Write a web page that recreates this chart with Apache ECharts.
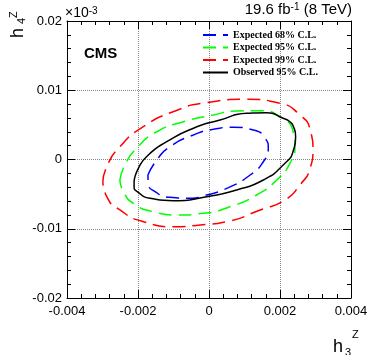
<!DOCTYPE html>
<html lang="en">
<head>
  <meta charset="UTF-8">
  <script src="https://cdn.jsdelivr.net/npm/echarts@6/dist/echarts.min.js"></script>
  <style>
    body { margin: 0; background: #fff; }
    #main { width: 374px; height: 355px; }
  </style>
  <title>h3Z h4Z limits</title>
</head>
<body>
  <div id="main"></div>
  <script>
    // contour points [h3Z, h4Z]
    const expected68 = [
      [-0.00172, -0.00224], [-0.00147, -0.00007], [-0.00110, 0.00185], [-0.00044, 0.00354],
      [0.00012, 0.00436], [0.00069, 0.00465], [0.00125, 0.00426], [0.00158, 0.00306],
      [0.00167, 0.00162], [0.00153, -0.00032], [0.00116, -0.00224], [0.00050, -0.00416],
      [-0.00007, -0.00513], [-0.00054, -0.00560], [-0.00110, -0.00546], [-0.00152, -0.00465],
      [-0.00171, -0.00344], [-0.00172, -0.00224]
    ];
    const expected95 = [
      [-0.00251, -0.00296], [-0.00237, -0.00079], [-0.00204, 0.00162], [-0.00147, 0.00401],
      [-0.00072, 0.00546], [0.00012, 0.00643], [0.00078, 0.00700], [0.00144, 0.00705],
      [0.00200, 0.00618], [0.00238, 0.00378], [0.00242, 0.00185], [0.00228, -0.00055],
      [0.00191, -0.00296], [0.00134, -0.00513], [0.00059, -0.00682], [-0.00016, -0.00777],
      [-0.00091, -0.00801], [-0.00157, -0.00754], [-0.00213, -0.00633], [-0.00241, -0.00465],
      [-0.00251, -0.00296]
    ];
    const expected99 = [
      [-0.00299, -0.00321], [-0.00288, -0.00104], [-0.00251, 0.00185], [-0.00185, 0.00474],
      [-0.00101, 0.00690], [-0.00007, 0.00820], [0.00106, 0.00869], [0.00200, 0.00812],
      [0.00256, 0.00643], [0.00285, 0.00426], [0.00293, 0.00137], [0.00285, -0.00123],
      [0.00256, -0.00368], [0.00214, -0.00585], [0.00144, -0.00729], [0.00050, -0.00898],
      [-0.00025, -0.00946], [-0.00101, -0.00970], [-0.00185, -0.00898], [-0.00251, -0.00729],
      [-0.00288, -0.00537], [-0.00299, -0.00321]
    ];
    const observed95 = [
      [-0.00211, -0.00321], [-0.00199, -0.00127], [-0.00171, 0.00065], [-0.00119, 0.00257],
      [-0.00044, 0.00451], [0.00031, 0.00570], [0.00106, 0.00667], [0.00163, 0.00676],
      [0.00209, 0.00595], [0.00227, 0.00549], [0.00238, 0.00474], [0.00244, 0.00329],
      [0.00238, 0.00137], [0.00209, -0.00079], [0.00153, -0.00296], [0.00078, -0.00440],
      [-0.00007, -0.00537], [-0.00101, -0.00595], [-0.00166, -0.00560], [-0.00202, -0.00465],
      [-0.00211, -0.00393], [-0.00211, -0.00321]
    ];
    const seriesNames = ['Expected 68% C.L.', 'Expected 95% C.L.', 'Expected 99% C.L.', 'Observed 95% C.L.'];
    const seriesColors = ['#0000ff', '#00ff00', '#ff0000', '#000000'];
    const xTicks = [-0.004, 0.004, 0.002];   // min, max, step
    const yTicks = [-0.02, 0.02, 0.01];

    const sans = 'Liberation Sans';
    const fmt = v => Math.abs(v) < 1e-12 ? '0' : String(+v.toFixed(4));

    function contour(i, data, dashed) {
      return {
        name: seriesNames[i],
        type: 'line',
        data: data,
        smooth: 0.6,
        symbol: 'none',
        lineStyle: { color: seriesColors[i], width: 1.5, type: dashed ? [13, 7] : 'solid' },
        itemStyle: { color: seriesColors[i] },
        z: 3
      };
    }

    const frameLine = { show: true, onZero: false, lineStyle: { color: '#000', width: 1 } };

    var myChart = echarts.init(document.getElementById('main'));
    var option = {
      animation: false,
      grid: { left: 67, right: 23, top: 21, bottom: 57 },
      legend: {
        orient: 'vertical',
        left: 197,
        top: 25,
        itemWidth: 25,
        itemHeight: 10,
        itemGap: 2.5,
        data: seriesNames,
        itemStyle: { opacity: 0 },
        textStyle: { fontFamily: 'Liberation Serif', fontWeight: 'bold', fontSize: 10, color: '#000' }
      },
      xAxis: [{
        type: 'value', min: xTicks[0], max: xTicks[1], interval: xTicks[2],
        axisLine: frameLine,
        axisTick: { inside: true, length: 8, lineStyle: { color: '#000' } },
        minorTick: { show: true, splitNumber: 5, length: 4, lineStyle: { color: '#000' } },
        axisLabel: { formatter: fmt, fontFamily: sans, fontSize: 13, color: '#000', margin: 7, hideOverlap: false },
        splitLine: { show: true, lineStyle: { color: '#888', type: 'dotted', width: 1 } }
      }, {
        type: 'value', position: 'top', min: xTicks[0], max: xTicks[1], interval: xTicks[2],
        axisLine: frameLine,
        axisTick: { inside: true, length: 8, lineStyle: { color: '#000' } },
        minorTick: { show: true, splitNumber: 5, length: 4, lineStyle: { color: '#000' } },
        axisLabel: { show: false },
        splitLine: { show: false }
      }],
      yAxis: [{
        type: 'value', min: yTicks[0], max: yTicks[1], interval: yTicks[2],
        axisLine: frameLine,
        axisTick: { inside: true, length: 8, lineStyle: { color: '#000' } },
        minorTick: { show: true, splitNumber: 5, length: 4, lineStyle: { color: '#000' } },
        axisLabel: { formatter: fmt, fontFamily: sans, fontSize: 13, color: '#000', margin: 5, hideOverlap: false },
        splitLine: { show: true, lineStyle: { color: '#888', type: 'dotted', width: 1 } }
      }, {
        type: 'value', position: 'right', min: yTicks[0], max: yTicks[1], interval: yTicks[2],
        axisLine: frameLine,
        axisTick: { inside: true, length: 8, lineStyle: { color: '#000' } },
        minorTick: { show: true, splitNumber: 5, length: 4, lineStyle: { color: '#000' } },
        axisLabel: { show: false },
        splitLine: { show: false }
      }],
      series: [
        contour(2, expected99, true),
        contour(1, expected95, true),
        contour(0, expected68, true),
        contour(3, observed95, false)
      ],
      graphic: [
        // CMS label
        { type: 'text', left: 84, top: 46, style: { text: 'CMS', font: 'bold 15px "Liberation Sans"', fill: '#000' } },
        // lumi label
        {
          type: 'text', x: 352, y: 17,
          style: {
            text: '{a|19.6 fb}{s|-1}{a| (8 TeV)}',
            align: 'right', verticalAlign: 'bottom',
            rich: {
              a: { fontFamily: sans, fontSize: 15, fill: '#000', verticalAlign: 'bottom' },
              s: { fontFamily: sans, fontSize: 10, fill: '#000', verticalAlign: 'top' }
            }
          }
        },
        // exponent
        {
          type: 'text', x: 65, y: 20,
          style: {
            text: '{a|\u00d710}{s|-3}',
            align: 'left', verticalAlign: 'bottom',
            rich: {
              a: { fontFamily: sans, fontSize: 14, fill: '#000', verticalAlign: 'bottom' },
              s: { fontFamily: sans, fontSize: 10, fill: '#000', verticalAlign: 'top' }
            }
          }
        },
        // x axis title h3^Z
        { type: 'text', x: 333, y: 356, style: { text: 'h', font: '18px "Liberation Sans"', fill: '#000', verticalAlign: 'bottom' } },
        { type: 'text', x: 345, y: 358.5, style: { text: '3', font: '11px "Liberation Sans"', fill: '#000', verticalAlign: 'bottom' } },
        { type: 'text', x: 352, y: 340.5, style: { text: 'Z', font: '11px "Liberation Sans"', fill: '#000', verticalAlign: 'bottom' } },
        // y axis title h4^Z
        {
          type: 'group', x: 23, y: 38, rotation: Math.PI / 2,
          children: [
            { type: 'text', x: 0, y: 3.8, style: { text: 'h', font: '18px "Liberation Sans"', fill: '#000', verticalAlign: 'bottom' } },
            { type: 'text', x: 14, y: 4.3, style: { text: '4', font: '11px "Liberation Sans"', fill: '#000', verticalAlign: 'bottom' } },
            { type: 'text', x: 20, y: -3.7, style: { text: 'Z', font: '11px "Liberation Sans"', fill: '#000', verticalAlign: 'bottom' } }
          ]
        }
      ]
    };
    option && myChart.setOption(option);
  </script>
</body>
</html>
